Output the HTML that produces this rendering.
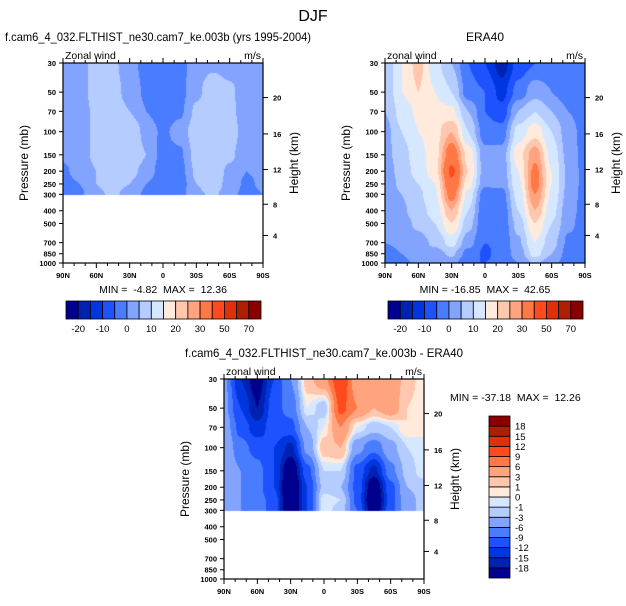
<!DOCTYPE html>
<html><head><meta charset="utf-8">
<style>
body{margin:0;background:#fff;width:626px;height:601px;overflow:hidden;font-family:"Liberation Sans",sans-serif;}
svg text{font-family:"Liberation Sans",sans-serif;white-space:pre;}
</style></head>
<body>
<svg id="fig" width="626" height="601" viewBox="0 0 626 601" xmlns="http://www.w3.org/2000/svg">
<text x="313" y="21" font-size="16" text-anchor="middle">DJF</text>
</svg>
<script>
// ---- data ----
const lats = [90,75,60,45,30,15,0,-15,-30,-45,-60,-75,-90];
const levels = [30,50,70,100,150,200,250,300,400,500,700,850,1000];
const pTicks = [30,50,70,100,150,200,250,300,400,500,700,850,1000];
const latTicks = [90,60,30,0,-30,-60,-90];
const latTickLabels = ["90N","60N","30N","0","30S","60S","90S"];
const kmTicks = [4,8,12,16,20];
const kmPressure = [617,357,194,104,55];
const colors = ["#00008f","#0022b0","#0036e0","#1e52ff","#4a7cff","#82a4ff","#b4ccff","#d6e8ff","#ffeadc","#ffc8ae","#ffa47e","#ff7846","#ff4a1e","#e03008","#b01e02","#8a0000"];
const levA = [-20,-15,-10,-5,0,5,10,15,20,25,30,40,50,60,70];
const levALabels = ["-20","-10","0","10","20","30","50","70"];
const levD = [-18,-15,-12,-9,-6,-3,-1,0,1,3,6,9,12,15,18];
// model (rows = levels 30..1000, cols = lats 90N..90S); null below 300mb
const modelU = [
[2,3,7,6,2,-2,-3,-2,3,4,3,2,2],
[2,3,7,7,3,-1,-3,-2,4,8,6,2,2],
[2,3,6,8,5,0,-3,-1,6,9,6,3,2],
[2,3,6,9,10,3,-1,2,8,9,7,3,2],
[1,3,6,9,10,5,-2,-1,7,10,6,2,2],
[-1,2,5,8,7,3,-3,-2,6,8,4,0,1],
[-2,0,5,7,5,0,-3,-3,5,8,3,-1,1],
[-2,-1,4,6,3,-1,-3,-2,4,6,2,-2,0],
null,null,null,null,null];
const eraU = [
[5,15,22,12,5,-5,-10,-18,-8,-5,-3,-5,-3],
[5,15,20,15,10,-3,-5,-12,-3,3,0,-3,-3],
[5,12,16,17,16,5,-5,-8,5,10,5,0,-2],
[3,10,15,18,25,10,-3,-3,12,18,10,2,-2],
[3,8,13,18,35,18,2,2,18,28,13,3,-2],
[2,7,12,18,42,20,2,2,15,32,15,4,-2],
[2,6,10,15,38,17,1,1,14,33,15,4,-2],
[2,5,9,14,33,13,-3,-2,12,30,14,3,-2],
[1,4,8,12,25,10,-5,-4,10,25,12,2,-2],
[1,3,6,10,20,7,-5,-4,7,20,10,1,-2],
[0,1,3,6,12,2,-5,-4,4,15,7,-1,-2],
[-2,0,2,3,6,-2,-6,-3,2,12,5,-2,-1],
[-4,-1,1,0,2,-5,-5,-3,0,6,2,-3,-1]];
const diffU = [
[-5,-15,-20,-12,-6,2,5,12,4,6,5,2,0],
[-5,-12,-18,-10,-8,0,-2,10,6,3,5,1,0],
[-4,-10,-14,-10,-10,-3,0,6,0,-2,-1,1,0],
[-3,-8,-10,-12,-16,-5,2,3,-5,-8,-4,-1,0],
[-3,-6,-8,-12,-22,-10,-1,-1,-10,-16,-7,-2,0],
[-3,-6,-8,-12,-25,-12,-2,-3,-10,-22,-10,-3,-2],
[-4,-6,-8,-10,-25,-12,0,-1,-10,-24,-10,-4,-2],
[-4,-6,-8,-10,-25,-12,0,-2,-9,-22,-10,-4,-2],
null,null,null,null,null];

const NS="http://www.w3.org/2000/svg";
const svg=document.getElementById('fig');
function el(tag,attrs,parent){const e=document.createElementNS(NS,tag);for(const k in attrs)e.setAttribute(k,attrs[k]);(parent||svg).appendChild(e);return e;}
function txt(x,y,s,size,anchor,parent,extra){const t=el('text',Object.assign({x:x,y:y,'font-size':size,'text-anchor':anchor||'start'},extra||{}),parent);t.textContent=s;return t;}

function levelIndex(v,lev){let i=0;while(i<lev.length&&v>=lev[i])i++;return i;}
function smooth(f){return f*f*(3-2*f);}

function drawPanel(o){
  const g=el('g',{});
  
  
  const X0=o.x,Y0=o.y,W=200,H=200;
  const lp0=Math.log(30),lp1=Math.log(1000);
  const yOf=p=>Y0+(Math.log(p)-lp0)/(lp1-lp0)*H;
  const xOf=lat=>X0+(90-lat)/180*W;
  const cv=document.createElement('canvas');cv.width=W;cv.height=H;
  const ctx=cv.getContext('2d');const img=ctx.createImageData(W,H);
  const rgb=colors.map(c=>[parseInt(c.substr(1,2),16),parseInt(c.substr(3,2),16),parseInt(c.substr(5,2),16)]);
  const lyv=levels.map(p=>yOf(p)-Y0);
  for(let py=0;py<H;py++){
    const yy=py+0.5;let r=0;while(r<levels.length-2&&yy>lyv[r+1])r++;
    let fy=Math.min(1,Math.max(0,(yy-lyv[r])/(lyv[r+1]-lyv[r])));
    for(let px=0;px<W;px++){
      const fxAll=(px+0.5)/W*(lats.length-1);let c=Math.min(lats.length-2,Math.floor(fxAll));const fx=smooth(fxAll-c);
      const r0=o.data[r],r1=o.data[r+1];
      let v;
      if(!r0)continue;
      if(!r1){if(fy>0.02)continue;v=r0[c]*(1-fx)+r0[c+1]*fx;}
      else{const sy=smooth(fy);v=(r0[c]*(1-fx)+r0[c+1]*fx)*(1-sy)+(r1[c]*(1-fx)+r1[c+1]*fx)*sy;}
      const k=levelIndex(v,o.lev);const q=(py*W+px)*4;
      img.data[q]=rgb[k][0];img.data[q+1]=rgb[k][1];img.data[q+2]=rgb[k][2];img.data[q+3]=255;
    }
  }
  ctx.putImageData(img,0,0);
  const fo=el('foreignObject',{x:X0,y:Y0,width:W,height:H},g);
  cv.style.display='block';fo.appendChild(cv);
  
  
  el('rect',{x:X0,y:Y0,width:W,height:H,fill:'none',stroke:'#000','stroke-width':1.2},g);
  for(let lat=-90;lat<=90;lat+=10){const x=xOf(lat);const major=lat%30===0;
    el('line',{x1:x,y1:Y0+H,x2:x,y2:Y0+H+(major?5:3),stroke:'#000','stroke-width':1},g);
    el('line',{x1:x,y1:Y0,x2:x,y2:Y0-(major?5:3),stroke:'#000','stroke-width':1},g);}
  latTicks.forEach((lat,i)=>{const t=txt(xOf(lat),Y0+H+15,latTickLabels[i],7.5,'middle',g,{'font-weight':'bold'});
    });
  pTicks.forEach(p=>{const y=yOf(p);el('line',{x1:X0-4,y1:y,x2:X0,y2:y,stroke:'#000'},g);
    const t=txt(X0-7,y+3,String(p),7.5,'end',g,{'font-weight':'bold'});
    });
  kmTicks.forEach((k,i)=>{const y=yOf(kmPressure[i]);el('line',{x1:X0+W,y1:y,x2:X0+W+5,y2:y,stroke:'#000'},g);
    const t=txt(X0+W+10,y+3,String(k),7.5,'start',g,{'font-weight':'bold'});
    });
  const yl=txt(0,0,'Pressure (mb)',12,'middle',g,{transform:`translate(${X0-35},${Y0+H/2}) rotate(-90)`});
  
  const hl=txt(0,0,'Height (km)',12,'middle',g,{transform:`translate(${X0+W+35},${Y0+H/2}) rotate(-90)`});
  
  const lt=txt(X0+2,Y0-4,o.leftLabel,10.5,'start',g);
  
  const rt=txt(X0+W-2,Y0-4,'m/s',10.5,'end',g);
  
  const extra={};
  if(o.titleLen){extra.textLength=o.titleLen;extra.lengthAdjust='spacingAndGlyphs';}
  const tt=txt(o.titleX,o.titleY,o.title,12,'middle',g,extra);
  
  const mm=txt(o.mmX,o.mmY,o.minmax,10.5,o.mmAnchor,g);
  
}

function hBar(x,y,w,h,name){
  const g=el('g',{});
  
  
  const bw=w/colors.length;
  colors.forEach((c,i)=>{const r=el('rect',{x:x+i*bw,y:y,width:bw,height:h,fill:c,stroke:'#000','stroke-width':0.8},g);
    });
  levALabels.forEach((s,i)=>{const t=txt(x+(2*i+1)*bw,y+h+13,s,9.5,'middle',g);
    });
}
function vBar(x,y,w,h,name){
  const g=el('g',{});
  
  
  const bh=h/colors.length;
  colors.forEach((c,i)=>{const r=el('rect',{x:x,y:y+h-(i+1)*bh,width:w,height:bh,fill:c,stroke:'#000','stroke-width':0.8},g);
    });
  levD.forEach((v,i)=>{const t=txt(x+w+5,y+h-(i+1)*bh+3.5,String(v),9.5,'start',g);
    });
}

drawPanel({name:'model-panel',x:63,y:63,data:modelU,lev:levA,leftLabel:'Zonal wind',
  title:'f.cam6_4_032.FLTHIST_ne30.cam7_ke.003b (yrs 1995-2004)',titleX:158,titleY:41,titleLen:306,
  minmax:'MIN =  -4.82  MAX =  12.36',mmX:163,mmY:293,mmAnchor:'middle'});
drawPanel({name:'era40-panel',x:385,y:63,data:eraU,lev:levA,leftLabel:'zonal wind',
  title:'ERA40',titleX:485,titleY:41,
  minmax:'MIN = -16.85  MAX =  42.65',mmX:485,mmY:293,mmAnchor:'middle'});
drawPanel({name:'difference-panel',x:224,y:379,data:diffU,lev:levD,leftLabel:'zonal wind',
  title:'f.cam6_4_032.FLTHIST_ne30.cam7_ke.003b - ERA40',titleX:324,titleY:357,titleLen:278,
  minmax:'MIN = -37.18  MAX =  12.26',mmX:450,mmY:401,mmAnchor:'start'});
hBar(66,301,195,18,'model-colorbar');
hBar(388,301,195,18,'era40-colorbar');
vBar(489,416,21,162,'difference-colorbar');
</script>
</body></html>
